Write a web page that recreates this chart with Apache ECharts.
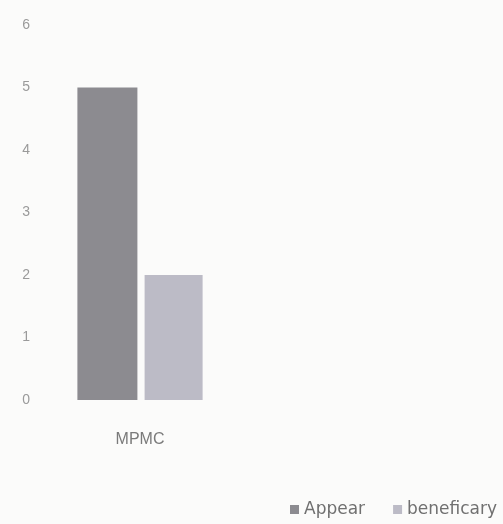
<!DOCTYPE html>
<html><head><meta charset="utf-8">
<script src="https://cdn.jsdelivr.net/npm/echarts@6/dist/echarts.min.js"></script>
<style>html,body{margin:0;padding:0;background:#fbfbfa}#c{width:503px;height:524px}</style>
</head><body><div id="c"></div>
<script>
const categories = ["MPMC"];
const seriesNames = ["Appear", "beneficary"];
const appearValues = [5];
const beneficaryValues = [2];
const yTicks = [0, 1, 2, 3, 4, 5, 6];

const chart = echarts.init(document.getElementById('c'));
chart.setOption({
  backgroundColor: '#fbfbfa',
  animation: false,
  grid: { left: 40, width: 200, top: 25, bottom: 124 },
  legend: {
    data: seriesNames,
    left: 285, top: 496, width: 400,
    itemWidth: 9, itemHeight: 9, itemGap: 28,
    icon: 'rect',
    textStyle: { color: '#707070', fontSize: 17, fontFamily: 'DejaVu Sans' }
  },
  xAxis: {
    type: 'category', data: categories,
    axisLine: { show: false }, axisTick: { show: false },
    axisLabel: { color: '#7a7a7a', fontSize: 16, margin: 32, fontFamily: 'Liberation Sans' }
  },
  yAxis: {
    type: 'value', min: yTicks[0], max: yTicks[yTicks.length - 1], interval: 1,
    splitLine: { show: false }, axisLine: { show: false }, axisTick: { show: false },
    axisLabel: { color: '#9a9a9a', fontSize: 14, margin: 10, fontFamily: 'Liberation Sans' }
  },
  series: [
    { name: seriesNames[0], type: 'bar', data: appearValues, barWidth: 60, barGap: '12%',
      itemStyle: { color: '#8c8b90' } },
    { name: seriesNames[1], type: 'bar', data: beneficaryValues, barWidth: 58,
      itemStyle: { color: '#bcbbc6' } }
  ]
});
</script>
</body></html>
